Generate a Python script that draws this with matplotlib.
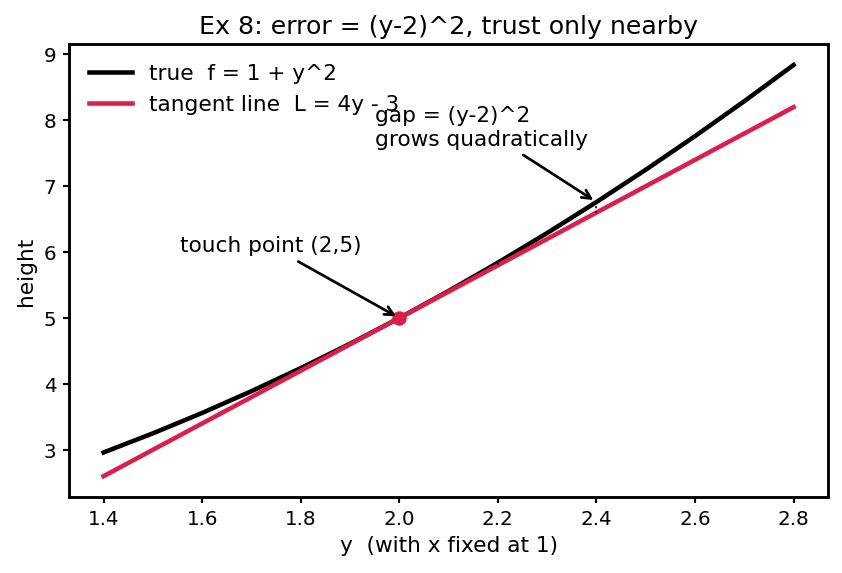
import numpy as np
import matplotlib.pyplot as plt

y_vals = [1.4, 1.5, 1.6, 1.7, 1.8, 1.9, 2.0, 2.1, 2.2, 2.3, 2.4, 2.5, 2.6, 2.7, 2.8]
f_vals = [2.96, 3.25, 3.56, 3.89, 4.24, 4.61, 5.0, 5.41, 5.84, 6.29, 6.76, 7.25, 7.76, 8.29, 8.84]

# tangent line end points
tan_y = [1.4, 2.8]
tan_L = [2.6, 8.2]

touch = (2.0, 5.0)

# small gap markers between curve and tangent
gap_y = [2.2, 2.4]
gap_lo = [5.8, 6.6]
gap_hi = [5.84, 6.76]

red = '#dc1e4a'

fig, ax = plt.subplots(figsize=(6.48, 4.41), dpi=130)
ax.plot(y_vals, f_vals, color='black', linewidth=2.5, label='true  f = 1 + y^2')
ax.plot(tan_y, tan_L, color=red, linewidth=2.5, label='tangent line  L = 4y - 3')
ax.plot(*touch, 'o', color=red, markersize=7)
ax.vlines(gap_y, gap_lo, gap_hi, colors='black', linestyles=':', linewidth=1)

ax.annotate('touch point (2,5)', xy=touch, xytext=(1.555, 6.0), fontsize=12,
            arrowprops=dict(arrowstyle='->', color='black', lw=1.5))
ax.annotate('gap = (y-2)^2\ngrows quadratically', xy=(2.4, 6.76), xytext=(1.95, 7.62),
            fontsize=12, arrowprops=dict(arrowstyle='->', color='black', lw=1.5))

ax.set_xlabel('y  (with x fixed at 1)', fontsize=12)
ax.set_ylabel('height', fontsize=12)
ax.set_title('Ex 8: error = (y-2)^2, trust only nearby', fontsize=14)
ax.legend(frameon=False, loc='upper left', fontsize=12)
for s in ax.spines.values():
    s.set_linewidth(1.6)
ax.tick_params(width=1.2, labelsize=11)
fig.subplots_adjust(left=0.082, right=0.983, top=0.922, bottom=0.133)
fig.savefig('out.png', dpi=130)
